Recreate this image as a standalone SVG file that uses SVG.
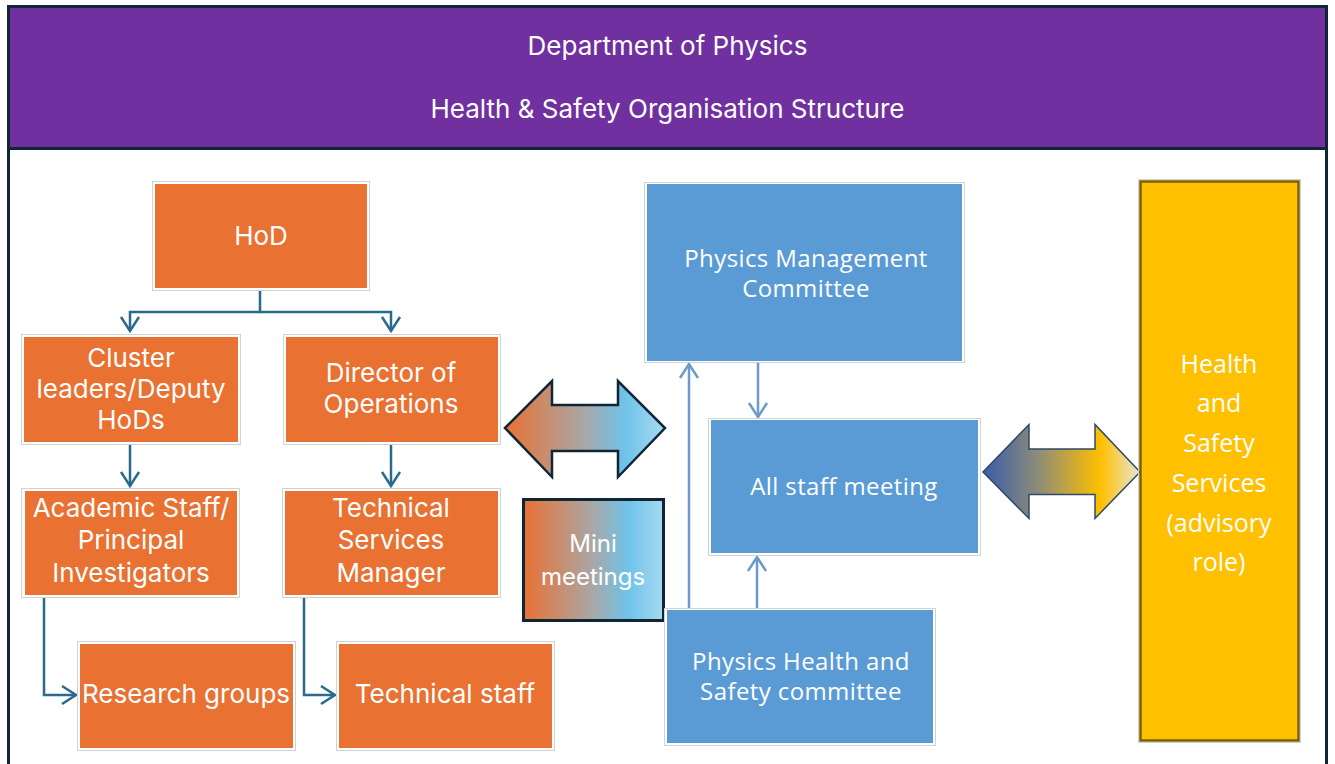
<svg xmlns="http://www.w3.org/2000/svg" width="1335" height="764" viewBox="0 0 1335 764">
<defs>
<style>
.ap{font-family:Inter,"Liberation Sans",sans-serif;fill:#ffffff;text-anchor:middle;}
.ca{font-family:"Open Sans","Liberation Sans",sans-serif;fill:#ffffff;text-anchor:middle;}
.halo{fill:#ffffff;stroke:#d2d2d2;stroke-width:1;}
.org{fill:#E97132;}
.blu{fill:#5B9BD5;}
.tc{fill:none;stroke:#2A6A8C;stroke-width:2.5;}
.bc{fill:none;stroke:#6C9BCB;stroke-width:2.5;}
</style>
<marker id="ta" markerUnits="userSpaceOnUse" markerWidth="20" markerHeight="24" viewBox="-16 -12 20 24" refX="0" refY="0" orient="auto">
<path d="M-14,-9 L0,0 L-14,9" fill="none" stroke="#2A6A8C" stroke-width="2.5"/>
</marker>
<marker id="ba" markerUnits="userSpaceOnUse" markerWidth="20" markerHeight="24" viewBox="-16 -12 20 24" refX="0" refY="0" orient="auto">
<path d="M-14,-9 L0,0 L-14,9" fill="none" stroke="#6C9BCB" stroke-width="2.5"/>
</marker>
<linearGradient id="gOB" x1="0" y1="0" x2="1" y2="0">
<stop offset="0" stop-color="#E97132"/>
<stop offset="0.5" stop-color="#A8A8A8"/>
<stop offset="0.75" stop-color="#6EC3EA"/>
<stop offset="1" stop-color="#A8DAF0"/>
</linearGradient>
<linearGradient id="gBY" x1="0" y1="0" x2="1" y2="0">
<stop offset="0" stop-color="#3A5CA8"/>
<stop offset="0.35" stop-color="#8C8C78"/>
<stop offset="0.75" stop-color="#FFC000"/>
<stop offset="1" stop-color="#E6E6D8"/>
</linearGradient>
</defs>
<rect x="0" y="0" width="1335" height="764" fill="#ffffff"/>
<g id="frame">
<rect x="8.5" y="6.5" width="1318" height="800" fill="#ffffff" stroke="#0F2636" stroke-width="3"/>
<rect x="10" y="8" width="1315" height="139" fill="#7030A0"/>
<line x1="8.5" y1="148.5" x2="1326.5" y2="148.5" stroke="#0F2636" stroke-width="3"/>
<text class="ap" x="667.5" y="55" font-size="26">Department of Physics</text>
<text class="ap" x="667.5" y="118" font-size="26">Health &amp; Safety Organisation Structure</text>
</g>
<g id="connectors">
<path class="tc" d="M260,291 V312 H130 V331" marker-end="url(#ta)"/>
<path class="tc" d="M260,312 H391 V331" marker-end="url(#ta)"/>
<path class="tc" d="M130,445 V486" marker-end="url(#ta)"/>
<path class="tc" d="M391,445 V486" marker-end="url(#ta)"/>
<path class="tc" d="M44,598 V695 H76" marker-end="url(#ta)"/>
<path class="tc" d="M304,598 V695 H335" marker-end="url(#ta)"/>
<path class="bc" d="M758,363 V417" marker-end="url(#ba)"/>
<path class="bc" d="M689,608 V364" marker-end="url(#ba)"/>
<path class="bc" d="M757,608 V557" marker-end="url(#ba)"/>
</g>
<g id="hod">
<rect class="halo" x="152.5" y="181.5" width="217" height="109"/>
<rect class="org" x="155" y="184" width="212" height="104"/>
<text class="ap" x="261" y="245" font-size="26">HoD</text>
</g>
<g id="cluster">
<rect class="halo" x="21.5" y="334.5" width="219" height="110"/>
<rect class="org" x="24" y="337" width="214" height="105"/>
<text class="ap" x="131" font-size="26"><tspan x="131" y="367">Cluster</tspan><tspan x="131" y="398">leaders/Deputy</tspan><tspan x="131" y="429">HoDs</tspan></text>
</g>
<g id="director">
<rect class="halo" x="283.5" y="334.5" width="217" height="110"/>
<rect class="org" x="286" y="337" width="212" height="105"/>
<text class="ap" x="391" font-size="26"><tspan x="391" y="382">Director of</tspan><tspan x="391" y="413">Operations</tspan></text>
</g>
<g id="academic">
<rect class="halo" x="21.5" y="488.5" width="218" height="109"/>
<rect class="org" x="25" y="491" width="212" height="104"/>
<text class="ap" x="131" font-size="26"><tspan x="131" y="517">Academic Staff/</tspan><tspan x="131" y="549">Principal</tspan><tspan x="131" y="582">Investigators</tspan></text>
</g>
<g id="tsm">
<rect class="halo" x="282.5" y="488.5" width="218" height="109"/>
<rect class="org" x="285" y="491" width="213" height="104"/>
<text class="ap" x="391" font-size="26"><tspan x="391" y="517">Technical</tspan><tspan x="391" y="549">Services</tspan><tspan x="391" y="582">Manager</tspan></text>
</g>
<g id="research">
<rect class="halo" x="77.5" y="641.5" width="218" height="109"/>
<rect class="org" x="80" y="644" width="213" height="104"/>
<text class="ap" x="186" y="703" font-size="26">Research groups</text>
</g>
<g id="techstaff">
<rect class="halo" x="336.5" y="641.5" width="218" height="109"/>
<rect class="org" x="339" y="644" width="213" height="104"/>
<text class="ap" x="445" y="703" font-size="26">Technical staff</text>
</g>
<g id="arrow-left">
<polygon points="505,428 552,381 552,405 618,405 618,381 665,428 618,477 618,451 552,451 552,477" fill="url(#gOB)" stroke="#0F2636" stroke-width="2.5" stroke-linejoin="miter"/>
</g>
<g id="mini">
<rect x="523.5" y="499.5" width="140" height="121" fill="url(#gOB)" stroke="#0F2636" stroke-width="3"/>
<text class="ap" font-size="24"><tspan x="593" y="552">Mini</tspan><tspan x="593" y="585">meetings</tspan></text>
</g>
<g id="pmc">
<rect class="halo" x="644.5" y="182.5" width="320" height="180"/>
<rect class="blu" x="647" y="184" width="315" height="177"/>
<text class="ca" font-size="24" letter-spacing="0.4"><tspan x="806" y="267">Physics Management</tspan><tspan x="806" y="297">Committee</tspan></text>
</g>
<g id="allstaff">
<rect class="halo" x="708.5" y="418.5" width="272" height="137"/>
<rect class="blu" x="711" y="420" width="267" height="133"/>
<text class="ca" x="844" y="495" font-size="24" letter-spacing="0.4">All staff meeting</text>
</g>
<g id="phs">
<rect class="halo" x="664.5" y="608.5" width="271" height="137"/>
<rect class="blu" x="667" y="610" width="266" height="133"/>
<text class="ca" font-size="24" letter-spacing="0.4"><tspan x="801" y="670">Physics Health and</tspan><tspan x="801" y="700">Safety committee</tspan></text>
</g>
<g id="arrow-right">
<polygon points="983,472 1029,424.5 1029,449 1095,449 1095,424.5 1140,472 1095,518.5 1095,494.5 1029,494.5 1029,518.5" fill="url(#gBY)" stroke="#2F4A6A" stroke-width="1.5"/>
</g>
<g id="hss">
<rect x="1138.5" y="179.5" width="162" height="563" fill="none" stroke="#d2d2d2" stroke-width="1"/>
<rect x="1140.5" y="181.5" width="158" height="559" fill="#FFC000" stroke="#7F6000" stroke-width="2.5"/>
<text class="ca" font-size="25"><tspan x="1219" y="373">Health</tspan><tspan x="1219" y="412">and</tspan><tspan x="1219" y="452">Safety</tspan><tspan x="1219" y="492">Services</tspan><tspan x="1219" y="532">(advisory</tspan><tspan x="1219" y="571">role)</tspan></text>
</g>
</svg>
